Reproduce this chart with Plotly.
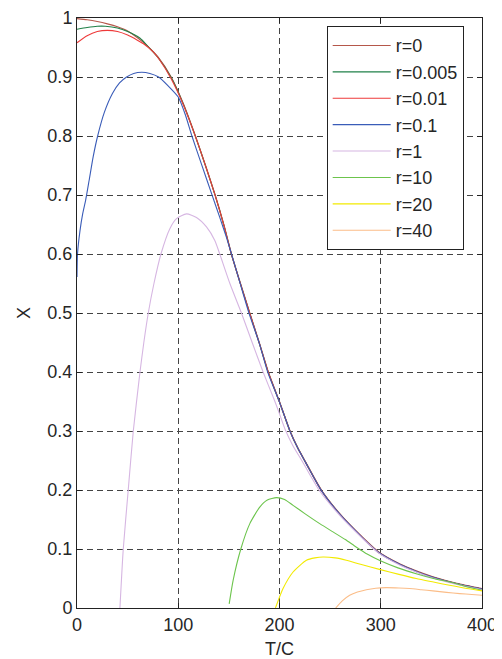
import plotly.graph_objects as go

# ---- data ----
names = ["r=0", "r=0.005", "r=0.01", "r=0.1", "r=1", "r=10", "r=20", "r=40"]

T_r0 = [0, 10, 20, 30, 40, 50, 60, 70, 80, 93, 105, 117, 127, 136.5, 145, 152.6,
        161.5, 170.7, 180, 189, 200, 205, 210.5, 218, 226, 241.4, 259.5, 282, 298,
        318.6, 335, 351.5, 375, 400]
X_r0 = [0.999, 0.997, 0.994, 0.990, 0.985, 0.978, 0.966, 0.952, 0.934, 0.900,
        0.855, 0.800, 0.750, 0.700, 0.650, 0.600, 0.550, 0.500, 0.450, 0.400,
        0.350, 0.326, 0.300, 0.272, 0.247, 0.200, 0.160, 0.120, 0.095, 0.075,
        0.063, 0.053, 0.042, 0.033]

T_r0005 = [0, 10, 20, 28, 40, 50, 62, 70, 80, 93, 105, 117, 127, 136.5, 145,
           152.6, 161.5, 170.7, 180, 189, 200, 205, 210.5, 218, 226, 241.4, 259.5,
           282, 298, 318.6, 335, 351.5, 375, 400]
X_r0005 = [0.981, 0.984, 0.986, 0.986, 0.983, 0.977, 0.966, 0.952, 0.933, 0.899,
           0.854, 0.799, 0.749, 0.699, 0.649, 0.599, 0.549, 0.499, 0.449, 0.399,
           0.349, 0.325, 0.299, 0.271, 0.246, 0.199, 0.159, 0.119, 0.094, 0.074,
           0.062, 0.052, 0.041, 0.032]

T_r001 = [0, 10, 20, 30, 40, 50, 60, 66, 75, 82, 93, 105, 117, 127, 136.5, 145,
          152.6, 161.5, 170.7, 180, 189, 200, 205, 210.5, 218, 226, 241.4, 259.5,
          282, 298, 318.6, 335, 351.5, 375, 400]
X_r001 = [0.958, 0.970, 0.977, 0.979, 0.977, 0.971, 0.962, 0.956, 0.943, 0.928,
          0.897, 0.853, 0.799, 0.749, 0.699, 0.649, 0.599, 0.549, 0.499, 0.449,
          0.399, 0.349, 0.325, 0.299, 0.271, 0.246, 0.199, 0.159, 0.119, 0.094,
          0.074, 0.062, 0.052, 0.041, 0.032]

T_r01 = [0, 0.5, 3, 5.6, 8.5, 12, 16, 20.4, 27, 35, 42, 49, 56, 64, 72, 80.6, 90,
         100, 107, 113.5, 123, 133, 141, 148, 155, 162, 170, 180, 188.5, 200, 205,
         210.5, 218, 226, 241.4, 259.5, 282, 298, 318.6, 335, 351.5, 375, 400]
X_r01 = [0.561, 0.600, 0.640, 0.668, 0.691, 0.725, 0.765, 0.800, 0.840, 0.872,
         0.890, 0.900, 0.906, 0.908, 0.906, 0.900, 0.885, 0.866, 0.836, 0.800,
         0.752, 0.702, 0.662, 0.626, 0.586, 0.545, 0.499, 0.449, 0.399, 0.349,
         0.325, 0.299, 0.271, 0.246, 0.199, 0.159, 0.119, 0.094, 0.074, 0.062,
         0.052, 0.041, 0.032]

T_r1 = [42.4, 45.7, 50.6, 55.6, 62.2, 66, 70.4, 76, 82.9, 91.7, 98.3, 108.2, 118,
        127.9, 136.1, 140.4, 151, 162.4, 173, 183.8, 195, 200, 205.5, 213, 222,
        230, 239, 259.5, 282, 298, 318.6, 335, 351.5, 375, 400]
X_r1 = [0.0, 0.1, 0.2, 0.3, 0.4, 0.45, 0.5, 0.55, 0.600, 0.643, 0.660, 0.668,
        0.662, 0.646, 0.623, 0.603, 0.550, 0.500, 0.450, 0.400, 0.352, 0.329,
        0.303, 0.276, 0.250, 0.226, 0.200, 0.157, 0.118, 0.093, 0.073, 0.061,
        0.051, 0.040, 0.031]

T_r10 = [150.3, 154.2, 161.8, 170.7, 180.5, 188, 197, 205, 213.4, 225, 239.7,
         252.8, 265, 276, 287, 299.6, 317, 335, 352, 368, 385, 400]
X_r10 = [0.007, 0.047, 0.100, 0.143, 0.171, 0.183, 0.187, 0.184, 0.174, 0.160,
         0.143, 0.129, 0.116, 0.103, 0.091, 0.080, 0.068, 0.058, 0.050, 0.044,
         0.036, 0.030]

T_r20 = [196, 203.5, 213.4, 226.6, 235, 243, 255, 266, 280, 299.6, 318, 335,
         352, 368, 385, 400]
X_r20 = [0.0, 0.033, 0.061, 0.081, 0.085, 0.0865, 0.085, 0.081, 0.074, 0.065,
         0.057, 0.050, 0.044, 0.0385, 0.033, 0.029]

T_r40 = [255.5, 262, 269.3, 277, 285.8, 295, 305.5, 318, 328.5, 340, 351.5, 365,
         378, 390, 400]
X_r40 = [0.0, 0.012, 0.0215, 0.027, 0.031, 0.0335, 0.0345, 0.034, 0.033, 0.031,
         0.029, 0.0265, 0.0244, 0.023, 0.0215]

x_ticks = [0, 100, 200, 300, 400]
x_tick_text = ["0", "100", "200", "300", "400"]
y_ticks = [0, 0.1, 0.2, 0.3, 0.4, 0.5, 0.6, 0.7, 0.8, 0.9, 1]
y_tick_text = ["0", "0.1", "0.2", "0.3", "0.4", "0.5", "0.6", "0.7", "0.8", "0.9", "1"]

series_T = [T_r0, T_r0005, T_r001, T_r01, T_r1, T_r10, T_r20, T_r40]
series_X = [X_r0, X_r0005, X_r001, X_r01, X_r1, X_r10, X_r20, X_r40]
colors = ["#b5574a", "#1f8048", "#ee3a3a", "#3a5cb8", "#d6b6e2", "#6cc44c",
          "#f2ea00", "#fbbd88"]

fig = go.Figure()
for name, tx, xx, c in zip(names, series_T, series_X, colors):
    fig.add_trace(go.Scatter(x=tx, y=xx, mode="lines", name=name,
                             line=dict(color=c, width=1.1, shape="spline",
                                       smoothing=0.6)))

font_family = "Liberation Sans"
axis_common = dict(
    showline=True, linecolor="#222", linewidth=1, mirror="ticks",
    ticks="inside", ticklen=5, tickcolor="#222", tickwidth=1,
    showgrid=True, gridcolor="#444", gridwidth=1, griddash="6px,4px",
    zeroline=False, automargin=False,
    tickfont=dict(size=18, color="#262626", family=font_family),
)

# the page adds an 8px body margin, so the figure is sized/offset to compensate
fig.update_layout(
    width=494, height=651,
    margin=dict(l=69, r=19.5, t=9.5, b=51.3),
    paper_bgcolor="white", plot_bgcolor="white",
    font=dict(family=font_family, size=18, color="#262626"),
    showlegend=True,
    legend=dict(x=0.6165, y=0.986, xanchor="left", yanchor="top",
                bgcolor="white", bordercolor="#222", borderwidth=1,
                font=dict(size=18, color="#262626", family=font_family),
                itemwidth=58, tracegroupgap=0),
    xaxis=dict(range=[0, 400], tickvals=x_ticks, ticktext=x_tick_text,
               title=dict(text="T/C", standoff=8, font=dict(size=18)),
               **axis_common),
    yaxis=dict(range=[0, 1], tickvals=y_ticks, ticktext=y_tick_text,
               title=dict(text="X", standoff=12, font=dict(size=18)),
               **axis_common),
)

fig.write_html("out.html")
